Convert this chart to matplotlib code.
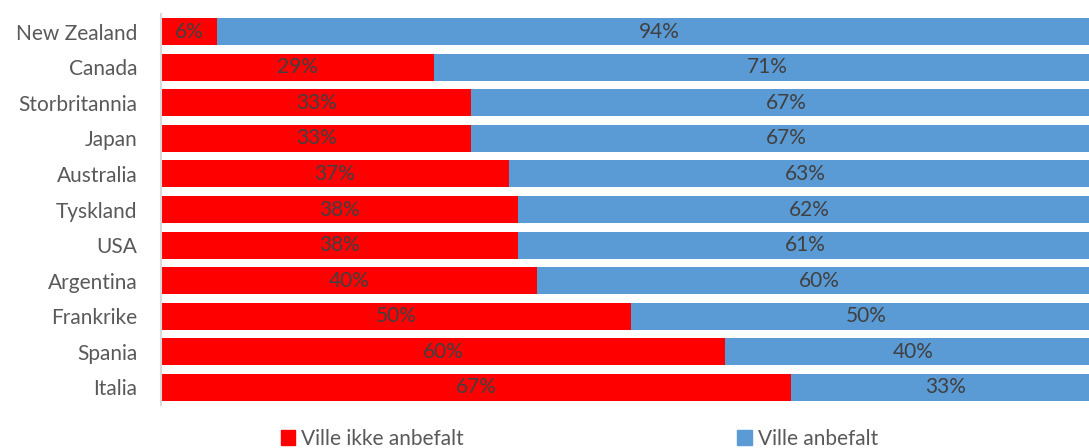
import numpy as np
import matplotlib
matplotlib.use('Agg')
import matplotlib.pyplot as plt
from matplotlib.patches import Patch

plt.rcParams['font.family'] = ['Lato', 'DejaVu Sans']

countries = ['New Zealand', 'Canada', 'Storbritannia', 'Japan', 'Australia',
             'Tyskland', 'USA', 'Argentina', 'Frankrike', 'Spania', 'Italia']
ikke_anbefalt = [6, 29, 33, 33, 37, 38, 38, 40, 50, 60, 67]
anbefalt = [94, 71, 67, 67, 63, 62, 61, 60, 50, 40, 33]

RED = '#ff0000'
BLUE = '#5b9bd5'
LABEL = '#404040'
TICK = '#595959'
FS = 15

fig = plt.figure(figsize=(10.89, 4.48), dpi=100)
# axes runs past the right edge of the figure, as in the reference crop
ax = fig.add_axes([161 / 1089, 43 / 448, 940 / 1089, 391 / 448])

y = np.arange(len(countries))
red = np.array(ikke_anbefalt)
blue = np.array(anbefalt)

ax.barh(y, red, height=0.76, color=RED, label='Ville ikke anbefalt')
ax.barh(y, blue, left=red, height=0.76, color=BLUE, label='Ville anbefalt')

for i in range(len(countries)):
  ax.text(red[i] / 2, y[i], '%d%%' % red[i], ha='center', va='center',
          fontsize=FS, color=LABEL)
  ax.text(red[i] + blue[i] / 2, y[i], '%d%%' % blue[i], ha='center',
          va='center', fontsize=FS, color=LABEL)

ax.set_xlim(0, 100)
ax.set_ylim(len(countries) - 0.5, -0.5)
ax.set_yticks(y)
ax.set_yticklabels(countries, fontsize=FS, color=TICK)
ax.set_xticks([])
ax.tick_params(axis='y', length=0, pad=17)
for s in ['top', 'right', 'bottom']:
  ax.spines[s].set_visible(False)
ax.spines['left'].set_color('#d9d9d9')
ax.spines['left'].set_linewidth(1.5)

handles = [Patch(color=RED, label='Ville ikke anbefalt'),
           Patch(color=BLUE, label='Ville anbefalt')]
fig.legend(handles=handles, loc='center', bbox_to_anchor=(0.532, 0.02),
           ncol=2, frameon=False, fontsize=FS, labelcolor=TICK,
           handlelength=0.7, handleheight=0.7, handletextpad=0.3,
           columnspacing=13.1, borderpad=0)

fig.savefig('out.png', dpi=100)
